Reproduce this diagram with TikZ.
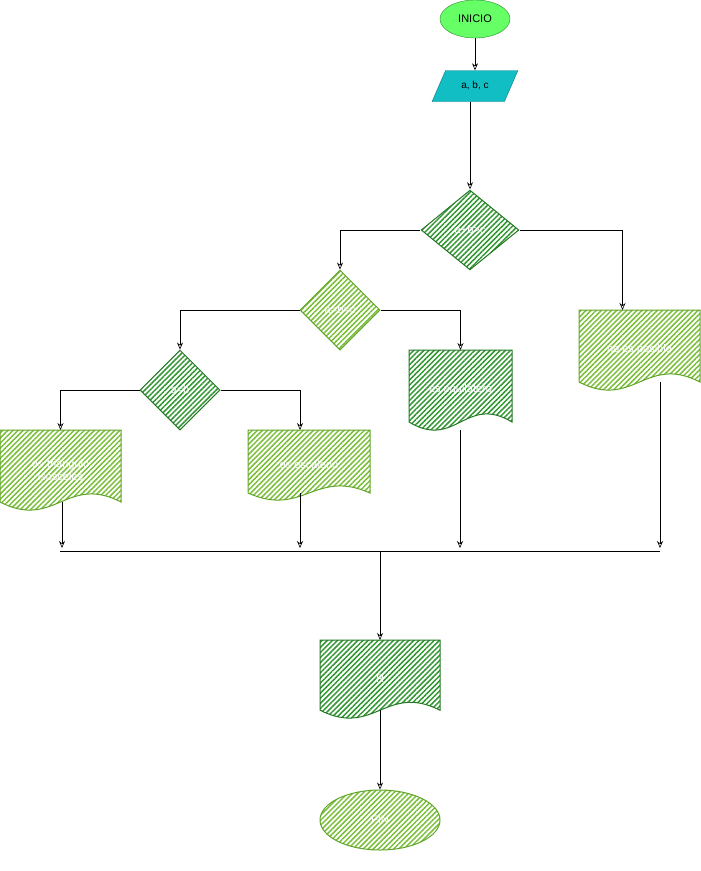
\documentclass[tikz,border=0pt]{standalone}
\usepackage{fontspec}
\setmainfont{Liberation Sans}
\usetikzlibrary{arrows.meta,positioning,calc,shapes.geometric,patterns.meta,backgrounds}

\definecolor{startgreen}{RGB}{102,255,102}
\definecolor{startline}{RGB}{40,140,40}
\definecolor{inputfill}{RGB}{16,190,196}
\definecolor{inputline}{RGB}{14,120,125}
\definecolor{darkline}{RGB}{35,120,35}
\definecolor{darkhatch}{RGB}{50,150,50}
\definecolor{lightline}{RGB}{96,165,40}
\definecolor{lighthatch}{RGB}{122,190,58}

% document shape behind a node: node, width, height, style
\newcommand{\docshape}[4]{%
  \path[#4, shift={(#1.north west)}] (0,0) -- (#2,0) -- (#2,0.9*#3)
    .. controls (0.55*#2,0.55*#3) and (0.45*#2,1.25*#3) .. (0,0.9*#3) -- cycle;
  \coordinate (#1-w) at ([shift={(0.5*#2,0.9*#3)}]#1.north west);
}

\begin{document}
\begin{tikzpicture}[
    x=1pt, y=-1pt,
    font=\fontsize{11}{13}\selectfont,
    terminal/.style={ellipse, draw=startline, fill=startgreen, minimum width=70pt, minimum height=38pt, inner sep=0pt},
    inputbox/.style={trapezium, trapezium left angle=63, trapezium right angle=117, trapezium stretches=true, draw=inputline, fill=inputfill, minimum width=86pt, minimum height=31pt, font=\fontsize{10}{12}\selectfont},
    hatchdark/.style={draw=darkline, line width=1pt, pattern={Lines[angle=45,distance=3.6pt,line width=1.5pt]}, pattern color=darkhatch},
    hatchlight/.style={draw=lightline, line width=1pt, pattern={Lines[angle=45,distance=3.6pt,line width=1.5pt]}, pattern color=lighthatch},
    decision/.style={diamond, minimum width=80pt, minimum height=80pt, inner sep=0pt, text=white},
    docbox/.style={rectangle, outer sep=0pt, inner sep=0pt, text=white, align=center},
    arrow/.style={-{Stealth[open,length=7pt,width=6pt]}, line width=0.6pt},
    link/.style={line width=0.6pt}
]
    \useasboundingbox (0,0) rectangle (701,871);

    % Start and input
    \node[terminal] (start) at (475,19) {INICIO};
    \node[inputbox] (abc) at (475,86) {a, b, c};

    % Decisions
    \node[decision, hatchdark, minimum width=98pt] (d1) at (470,230) {a+b>c};
    \node[decision, hatchlight] (d2) at (340,310) {a=b=c};
    \node[decision, hatchdark] (d3) at (180,390) {a=b};

    % Outputs
    \node[docbox, minimum width=121pt, minimum height=80pt, text width=100pt] (b1) at (60.5,470) {es triángulo isósceles};
    \node[docbox, minimum width=122pt, minimum height=70pt] (b2) at (309,465) {es escaleno};
    \node[docbox, minimum width=103pt, minimum height=80pt] (b3) at (460.5,390) {es equilátero};
    \node[docbox, minimum width=121pt, minimum height=80pt] (b4) at (639.5,350) {no es posible};
    \node[docbox, minimum width=120pt, minimum height=78pt] (b5) at (380,679) {R};

    % End
    \node[ellipse, hatchlight, minimum width=120pt, minimum height=60pt, text=white] (fin) at (380,820) {FIN};

    \begin{scope}[on background layer]
        \docshape{b1}{121}{80}{hatchlight}
        \docshape{b2}{122}{70}{hatchlight}
        \docshape{b3}{103}{80}{hatchdark}
        \docshape{b4}{121}{80}{hatchlight}
        \docshape{b5}{120}{78}{hatchdark}
    \end{scope}

    % Join line
    \coordinate (j1) at (62,548);
    \coordinate (j2) at (300,548);
    \coordinate (j3) at (460,548);
    \coordinate (j4) at (660,548);
    \coordinate (jl) at (60,551);
    \coordinate (jr) at (660,551);
    \coordinate (jm) at (380,551);

    % Arrows
    \draw[arrow] (start) -- (abc);
    \draw[arrow] (d1.north |- abc.south) -- (d1);
    \draw[arrow] (d1.west) -| (d2.north);
    \draw[arrow] (d1.east) -| ([xshift=-17pt]b4.north);
    \draw[arrow] (d2.west) -| (d3.north);
    \draw[arrow] (d2.east) -| (b3.north);
    \draw[arrow] (d3.west) -| (b1.north);
    \draw[arrow] (d3.east) -| ([xshift=-9pt]b2.north);

    \draw[arrow] (j1 |- b1-w) -- (j1);
    \draw[arrow] (j2 |- b2-w) -- (j2);
    \draw[arrow] (j3 |- b3.south) -- (j3);
    \draw[arrow] (j4 |- b4-w) -- (j4);
    \draw[link] (jl) -- (jr);
    \draw[arrow] (jm) -- (b5.north);
    \draw[arrow] (b5-w) -- (fin);

\end{tikzpicture}
\end{document}
